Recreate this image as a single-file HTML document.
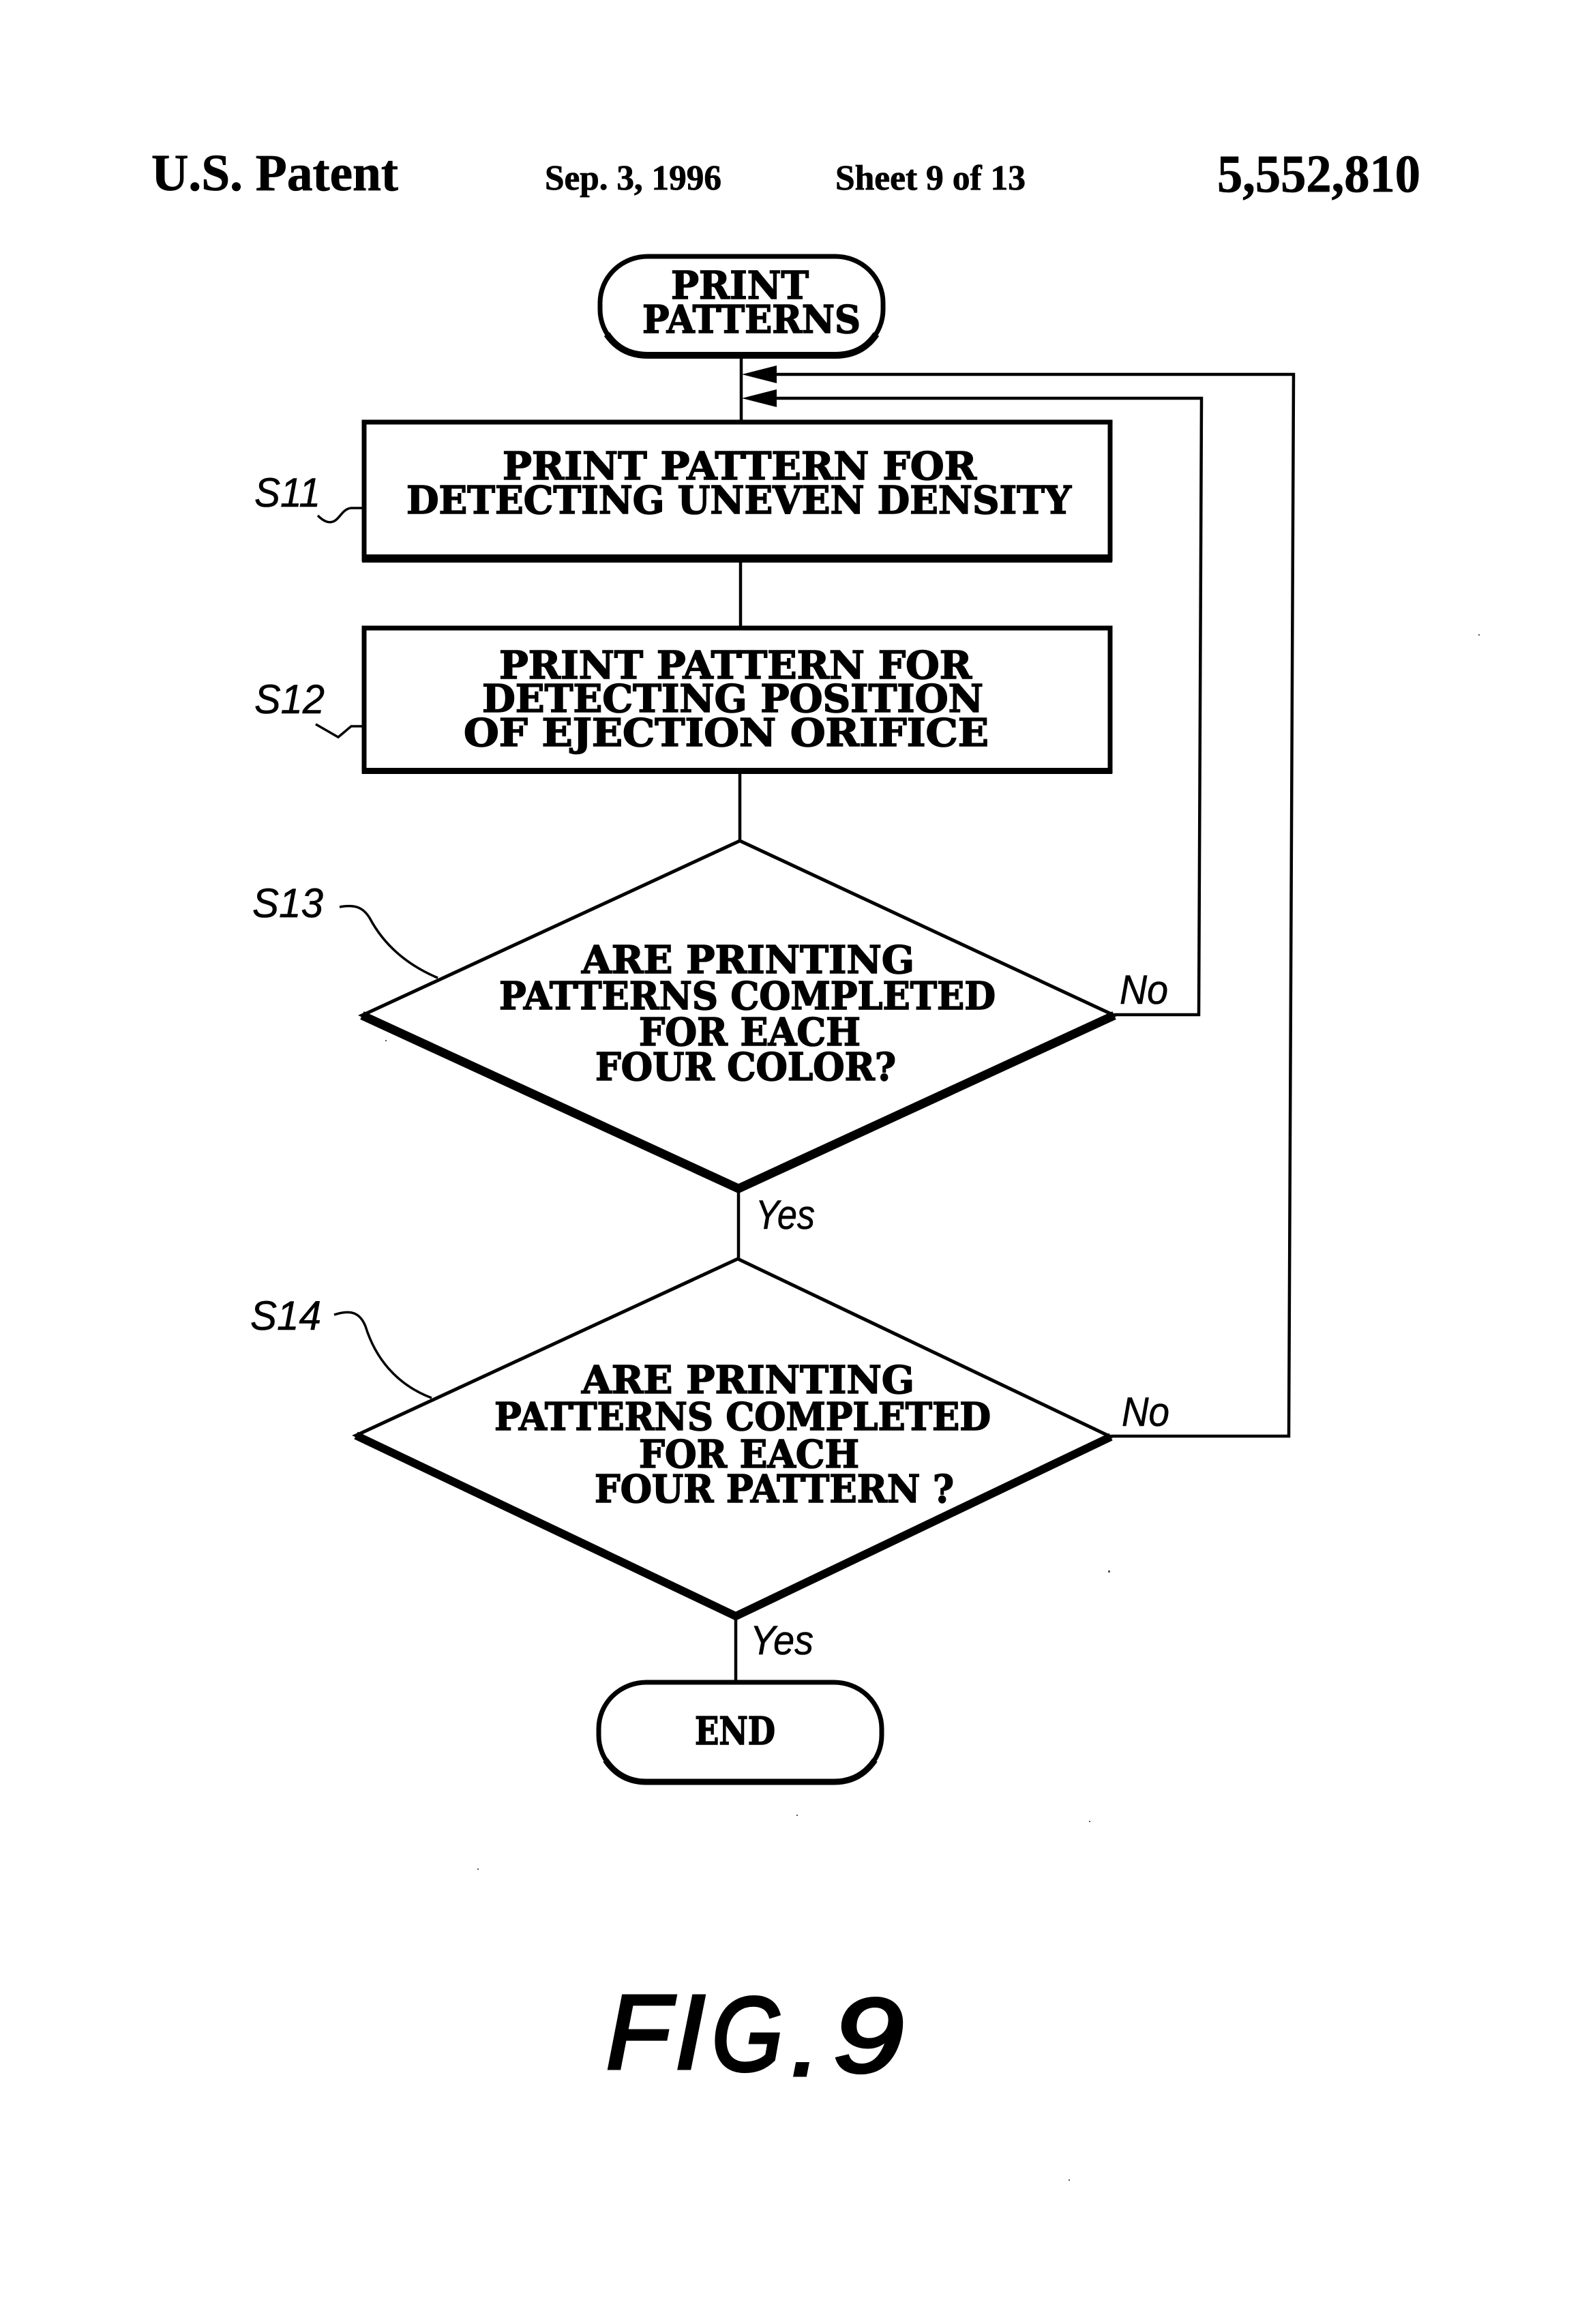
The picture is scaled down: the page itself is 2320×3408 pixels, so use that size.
<!DOCTYPE html>
<html><head><meta charset="utf-8"><title>U.S. Patent 5,552,810 FIG. 9</title>
<style>
html,body{margin:0;padding:0;background:#fff}
svg{display:block}
.h{font-family:"Liberation Serif",serif;font-weight:bold;fill:#000;stroke:#000;stroke-width:.8}
.t{font-family:"DejaVu Serif","Liberation Serif",serif;font-weight:bold;font-size:56px;fill:#000;stroke:#000;stroke-width:1.6}
.l{font-family:"Liberation Sans",sans-serif;font-style:italic;fill:#000;stroke:#000;stroke-width:.6;font-size:60px}
.f{font-family:"Liberation Sans",sans-serif;font-style:italic;fill:#000;stroke:#000;stroke-width:5;font-size:154px}
.s{fill:none;stroke:#000;stroke-linejoin:miter}
</style></head><body>
<svg xmlns="http://www.w3.org/2000/svg" width="2320" height="3408" viewBox="0 0 2320 3408">
<rect width="2320" height="3408" fill="#fff"/>

<!-- header -->
<text class="h" x="222" y="279" font-size="76" textLength="362" lengthAdjust="spacingAndGlyphs">U.S. Patent</text>
<text class="h" x="799" y="278" font-size="52" textLength="259" lengthAdjust="spacingAndGlyphs">Sep. 3, 1996</text>
<text class="h" x="1225" y="278" font-size="52" textLength="279" lengthAdjust="spacingAndGlyphs">Sheet 9 of 13</text>
<text class="h" x="1785" y="281" font-size="78" textLength="298" lengthAdjust="spacingAndGlyphs">5,552,810</text>

<!-- connectors -->
<g class="s" stroke-width="4.5">
<path d="M1087 524V616"/>
<path d="M1086 825V918"/>
<path d="M1085 1135V1233"/>
<path d="M1083 1743V1846"/>
<path d="M1079 2370V2465"/>
<path d="M1634 1488H1758L1762 584H1130"/>
<path d="M1629 2106H1890L1897 549H1130"/>
</g>
<polygon points="1088,549 1139,536 1139,562" fill="#000"/>
<polygon points="1088,584 1139,571 1139,597" fill="#000"/>

<!-- start -->
<rect x="880" y="376" width="415" height="146" rx="70" ry="68" fill="#fff" stroke="#000" stroke-width="7"/>
<path d="M890 490C905 512 925 521 950 521H1225C1250 521 1270 512 1285 490" class="s" stroke-width="10"/>
<text class="t" x="984" y="438" textLength="202" lengthAdjust="spacingAndGlyphs">PRINT</text>
<text class="t" x="942" y="488" textLength="320" lengthAdjust="spacingAndGlyphs">PATTERNS</text>

<!-- S11 -->
<rect x="534" y="619" width="1094" height="201" fill="#fff" stroke="#000" stroke-width="7"/>
<rect x="531" y="813" width="1100" height="12" fill="#000"/>
<text class="t" x="737" y="703" textLength="695" lengthAdjust="spacingAndGlyphs">PRINT PATTERN FOR</text>
<text class="t" x="596" y="753" textLength="975" lengthAdjust="spacingAndGlyphs">DETECTING UNEVEN DENSITY</text>
<text class="l" x="373" y="743" textLength="97" lengthAdjust="spacingAndGlyphs">S11</text>
<path class="s" stroke-width="3.5" d="M466 756C472 762 480 768 488 765C498 762 502 746 515 745H532"/>

<!-- S12 -->
<rect x="534" y="921" width="1094" height="210" fill="#fff" stroke="#000" stroke-width="7"/>
<rect x="531" y="1126" width="1100" height="9" fill="#000"/>
<text class="t" x="732" y="995" textLength="693" lengthAdjust="spacingAndGlyphs">PRINT PATTERN FOR</text>
<text class="t" x="707" y="1044" textLength="735" lengthAdjust="spacingAndGlyphs">DETECTING POSITION</text>
<text class="t" x="680" y="1094" textLength="770" lengthAdjust="spacingAndGlyphs">OF EJECTION ORIFICE</text>
<text class="l" x="373" y="1046" textLength="103" lengthAdjust="spacingAndGlyphs">S12</text>
<path class="s" stroke-width="3.5" d="M463 1062L496 1081L515 1065H532"/>

<!-- S13 diamond -->
<polygon points="1085,1233 1634,1489 1083,1743 531,1489" fill="#fff" stroke="#000" stroke-width="5"/>
<path class="s" stroke-width="13" d="M531 1489L1083 1743L1634 1489"/>
<text class="t" x="853" y="1427" textLength="488" lengthAdjust="spacingAndGlyphs">ARE PRINTING</text>
<text class="t" x="732" y="1480" textLength="728" lengthAdjust="spacingAndGlyphs">PATTERNS COMPLETED</text>
<text class="t" x="937" y="1533" textLength="325" lengthAdjust="spacingAndGlyphs">FOR EACH</text>
<text class="t" x="873" y="1584" textLength="441" lengthAdjust="spacingAndGlyphs">FOUR COLOR?</text>
<text class="l" x="370" y="1345" textLength="104" lengthAdjust="spacingAndGlyphs">S13</text>
<path class="s" stroke-width="3.5" d="M498 1330C520 1326 532 1330 542 1346C560 1380 590 1412 642 1434"/>
<text class="l" x="1642" y="1472" textLength="71" lengthAdjust="spacingAndGlyphs">No</text>
<text class="l" x="1108" y="1802" textLength="87" lengthAdjust="spacingAndGlyphs">Yes</text>

<!-- S14 diamond -->
<polygon points="1082,1846 1629,2107 1079,2370 522,2105" fill="#fff" stroke="#000" stroke-width="5"/>
<path class="s" stroke-width="12" d="M522 2105L1079 2370L1629 2107"/>
<text class="t" x="853" y="2043" textLength="488" lengthAdjust="spacingAndGlyphs">ARE PRINTING</text>
<text class="t" x="725" y="2097" textLength="728" lengthAdjust="spacingAndGlyphs">PATTERNS COMPLETED</text>
<text class="t" x="937" y="2152" textLength="323" lengthAdjust="spacingAndGlyphs">FOR EACH</text>
<text class="t" x="872" y="2203" textLength="527" lengthAdjust="spacingAndGlyphs">FOUR PATTERN ?</text>
<text class="l" x="367" y="1950" textLength="104" lengthAdjust="spacingAndGlyphs">S14</text>
<path class="s" stroke-width="3.5" d="M490 1928C515 1920 528 1925 536 1945C550 1990 580 2030 633 2050"/>
<text class="l" x="1645" y="2091" textLength="70" lengthAdjust="spacingAndGlyphs">No</text>
<text class="l" x="1100" y="2426" textLength="93" lengthAdjust="spacingAndGlyphs">Yes</text>

<!-- end -->
<rect x="878" y="2467" width="415" height="146" rx="70" ry="68" fill="#fff" stroke="#000" stroke-width="7"/>
<path d="M888 2581C903 2603 923 2613 948 2613H1223C1248 2613 1268 2603 1283 2581" class="s" stroke-width="9"/>
<text class="t" x="1019" y="2558" textLength="118" lengthAdjust="spacingAndGlyphs">END</text>

<!-- figure caption -->
<text class="f" x="889" y="3033">F</text>
<text class="f" x="990" y="3033" textLength="44" lengthAdjust="spacingAndGlyphs">I</text>
<text class="f" x="1044" y="3036" textLength="104" lengthAdjust="spacingAndGlyphs">G</text>
<text class="f" x="1160" y="3043">.</text>
<text class="f" x="1222" y="3038" textLength="103" lengthAdjust="spacingAndGlyphs">9</text>

<!-- specks -->
<g fill="#555">
<rect x="565" y="1525" width="2" height="2"/><rect x="1625" y="2303" width="3" height="3"/>
<rect x="1168" y="2661" width="2" height="2"/><rect x="1597" y="2670" width="2" height="2"/>
<rect x="700" y="2740" width="2" height="2"/><rect x="1567" y="3196" width="2" height="2"/>
<rect x="2168" y="930" width="2" height="2"/>
</g>
</svg>
</body></html>
